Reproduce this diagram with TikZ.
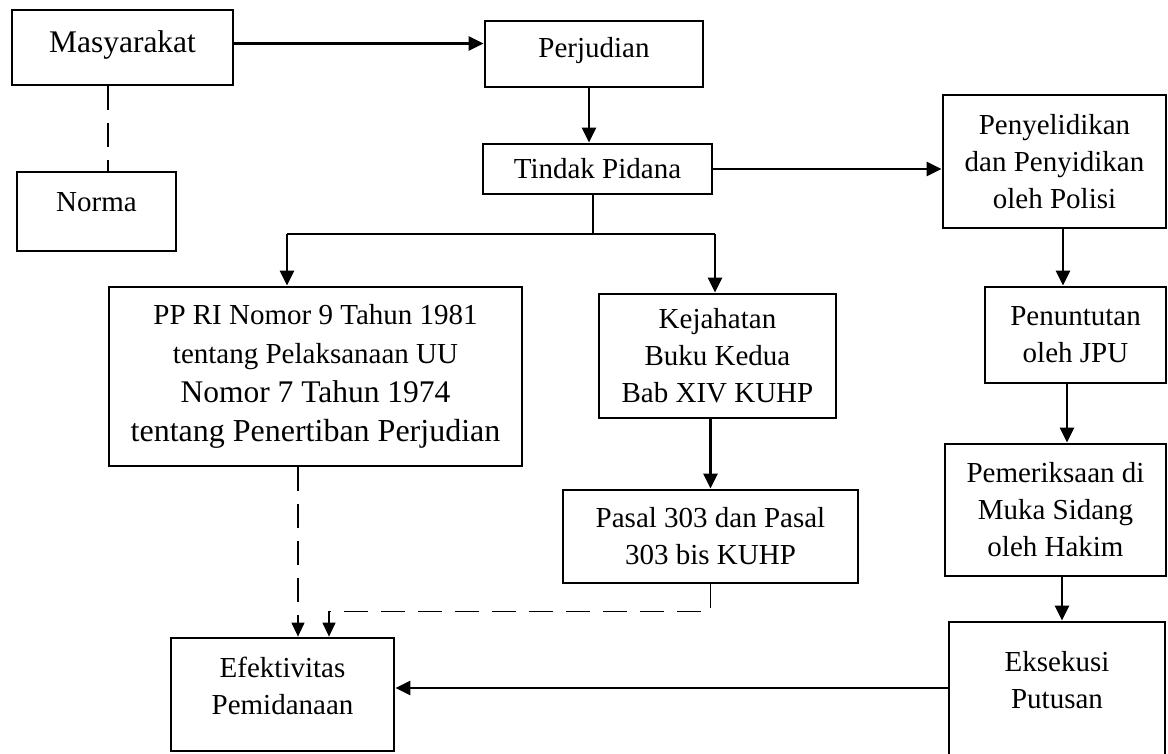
\documentclass[tikz,border=0pt]{standalone}
\usepackage{fontspec}
\setmainfont{Liberation Serif}
\usetikzlibrary{arrows.meta}

\begin{document}
\begin{tikzpicture}[x=1pt,y=-1pt,
   kotak/.style={draw,line width=2.8pt,inner sep=0pt,align=center,font=\fontsize{29}{37}\selectfont},
   naik/.style={text depth=#1},
   panah/.style={line width=2.8pt,-{Triangle[length=15pt,width=14pt]}},
   garis/.style={line width=1.3pt},
   putus/.style={line width=1.3pt,dash pattern=on 24pt off 13pt},
   ujung/.style={-{Triangle[length=14pt,width=13pt]}}]
   \useasboundingbox (0,0) rectangle (1168,753);
   \node[kotak,minimum width=221pt,minimum height=75pt,naik=12pt,font=\fontsize{31.5}{36}\selectfont] (masy) at (122.5,47.5) {Masyarakat};
   \node[kotak,minimum width=159pt,minimum height=79pt,naik=19pt] (norma) at (96.5,211.5) {Norma};
   \node[kotak,minimum width=218pt,minimum height=66pt,naik=14pt] (perj) at (594,54) {Perjudian};
   \node[kotak,minimum width=229pt,minimum height=50pt] (tindak) at (597.5,169) {Tindak Pidana};
   \node[kotak,minimum width=223pt,minimum height=133pt] (peny) at (1054.5,161.5) {Penyelidikan\\dan Penyidikan\\oleh Polisi};
   \node[kotak,minimum width=181pt,minimum height=96pt] (penu) at (1075.5,335) {Penuntutan\\oleh JPU};
   \node[kotak,minimum width=221pt,minimum height=132pt] (pem) at (1055.5,510) {Pemeriksaan di\\Muka Sidang\\oleh Hakim};
   \node[kotak,minimum width=216pt,minimum height=148pt,naik=32pt] (eks) at (1057,696) {Eksekusi\\Putusan};
   \node[kotak,minimum width=413pt,minimum height=179pt,font=\fontsize{29}{39}\selectfont] (pp) at (315.5,376.5) {PP RI Nomor 9 Tahun 1981\\tentang Pelaksanaan UU\\{\fontsize{31.5}{39}\selectfont Nomor 7 Tahun 1974}\\{\fontsize{32}{39}\selectfont tentang Penertiban Perjudian}};
   \node[kotak,minimum width=237pt,minimum height=124pt] (kej) at (717.5,356) {Kejahatan\\Buku Kedua\\Bab XIV KUHP};
   \node[kotak,minimum width=295pt,minimum height=93pt] (pasal) at (710.5,536.5) {Pasal 303 dan Pasal\\303 bis KUHP};
   \node[kotak,minimum width=223pt,minimum height=113pt,naik=18pt] (efek) at (282.5,694.5) {Efektivitas\\Pemidanaan};
   \coordinate (kiri) at (287,234);
   \coordinate (kanan) at (715,234);
   \draw[panah] ([yshift=4]masy.east) -- ([yshift=4]masy.east -| perj.west);
   \draw[panah] ([xshift=-5]perj.south) -- ([xshift=-5]perj.south |- tindak.north);
   \draw[panah] (tindak.east) -- (tindak.east -| peny.west);
   \draw[garis] ([xshift=-4.5]tindak.south) -- ([xshift=-4.5]tindak.south |- kiri);
   \draw[garis] (kiri) -- (kanan);
   \draw[panah] (kiri) -- (kiri |- pp.north);
   \draw[panah] (kanan) -- (kanan |- kej.north);
   \draw[panah] (pasal.north |- kej.south) -- (pasal.north);
   \draw[panah] ([xshift=8.5]peny.south) -- ([xshift=8.5]peny.south |- penu.north);
   \draw[panah] ([xshift=-8.5]penu.south) -- ([xshift=-8.5]penu.south |- pem.north);
   \draw[panah] ([xshift=6.5]pem.south) -- ([xshift=6.5]pem.south |- eks.north);
   \draw[panah] ([yshift=8]eks.west) -- ([yshift=8]eks.west -| efek.east);
   \draw[putus] ([xshift=-14.5]masy.south) -- ([xshift=-14.5]masy.south |- norma.north);
   \draw[putus,ujung] ([xshift=-17.5]pp.south) -- ([xshift=-17.5]pp.south |- efek.north);
   \draw[putus,ujung] (pasal.south) -- ++(0,27) -| ([xshift=46.5]efek.north);
\end{tikzpicture}
\end{document}
